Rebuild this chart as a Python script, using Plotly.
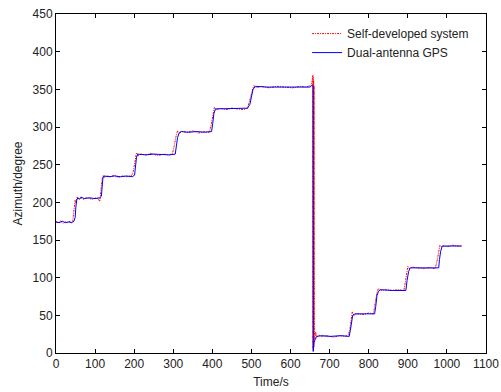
import plotly.graph_objects as go

# Self-developed system (red, dash-dot)
red_time = [0, 6, 12, 18, 24, 30, 36, 40,
            43, 45, 47, 49, 51, 54, 58,
            64, 70, 78, 86, 94, 102, 108, 112,
            114, 116, 118, 121, 124,
            130, 140, 150, 160, 170, 180, 190, 196,
            199, 201, 203, 206, 210,
            218, 230, 245, 260, 275, 290, 298,
            302, 305, 308, 311, 315,
            322, 335, 350, 365, 380, 392,
            396, 399, 402, 405, 410,
            420, 435, 450, 465, 480, 490,
            494, 498, 502, 506, 512,
            525, 545, 565, 585, 605, 625, 640, 650, 654, 656, 657,
            657.5, 658, 658.5, 659, 659.5, 660, 660.5, 661,
            662, 664, 667, 672, 680, 695, 710, 725, 740, 748,
            752, 755, 758, 762, 770,
            785, 800, 812,
            815, 818, 821, 825, 832,
            845, 860, 875, 890,
            894, 897, 900, 904, 912,
            925, 940, 955, 970,
            976, 979, 982, 985, 990,
            1000, 1015, 1030, 1038]
red_azimuth = [174, 173, 175, 172, 174, 173, 175, 173,
               176, 185, 196, 203, 199, 207, 205,
               206, 204, 206, 205, 204, 206, 205, 201,
               212, 222, 231, 236, 233,
               235, 234, 236, 233, 235, 234, 235, 237,
               245, 252, 260, 266, 262,
               264, 263, 265, 262, 264, 263, 265,
               274, 285, 290, 295, 292,
               294, 293, 295, 292, 294, 293,
               300, 310, 318, 326, 323,
               325, 323, 325, 324, 323, 325,
               332, 341, 349, 355, 352,
               354, 352, 354, 353, 352, 354, 353, 355, 358, 364, 369,
               5, 366, 3, 362, 8, 355, 10, 30,
               18, 28, 21, 24, 22, 23, 21, 23, 22, 24,
               32, 42, 55, 50, 52,
               51, 53, 52,
               62, 72, 80, 86, 83,
               84, 83, 84, 83,
               95, 105, 115, 112, 114,
               113, 112, 113, 112,
               125, 135, 143, 141, 142,
               141, 143, 142, 142]

# Dual-antenna GPS (blue, solid)
blue_time = [0, 8, 16, 24, 32, 40, 46, 49, 51, 53, 56, 60, 64, 72, 85, 100, 112,
             116, 118, 120, 123, 135, 150, 165, 180, 195,
             201, 203, 206, 210, 230, 250, 270, 290,
             305, 308, 311, 315, 320, 340, 360, 380,
             398, 401, 404, 408, 430, 460, 490,
             496, 500, 504, 510, 540, 580, 620, 650, 656, 657.5,
             658, 659, 660, 663, 667, 680, 700, 730, 750,
             753, 756, 759, 765, 790, 815,
             818, 821, 825, 830, 860, 895,
             898, 902, 906, 930, 960, 979,
             981, 984, 988, 1010, 1038]
blue_azimuth = [174, 173, 175, 173, 174, 173, 175, 180, 195, 203, 206, 204, 207, 205, 206, 205, 206,
                208, 220, 232, 235, 234, 235, 234, 235, 234,
                236, 248, 260, 264, 263, 264, 263, 263,
                264, 275, 286, 292, 294, 293, 294, 293,
                294, 305, 318, 324, 324, 324, 325,
                330, 340, 350, 354, 353, 353, 353, 353, 356, 354,
                2, 8, 14, 18, 22, 23, 22, 23, 22,
                30, 44, 50, 52, 52, 52,
                62, 76, 82, 84, 83, 83,
                96, 108, 113, 113, 113, 113,
                124, 135, 142, 142, 142]

x_ticks = list(range(0, 1101, 100))
y_ticks = list(range(0, 451, 50))

FONT = "Liberation Sans, Arial, sans-serif"

fig = go.Figure()
fig.add_trace(go.Scatter(x=red_time, y=red_azimuth, mode="lines",
                         name="Self-developed system",
                         line=dict(color="#ff0000", width=1, dash="2px,1px,1px,1px")))
fig.add_trace(go.Scatter(x=blue_time, y=blue_azimuth, mode="lines",
                         name="Dual-antenna GPS",
                         line=dict(color="#0000ff", width=1)))

axis_common = dict(showline=True, linecolor="black", linewidth=1, mirror="ticks",
                   ticks="inside", ticklen=4, tickcolor="black", showgrid=False,
                   zeroline=False, automargin=False,
                   tickfont=dict(family=FONT, size=12, color="#222"))

fig.update_xaxes(range=[0, 1100], tickvals=x_ticks,
                 title=dict(text="Time/s", font=dict(family=FONT, size=12, color="#222"), standoff=7),
                 **axis_common)
fig.update_yaxes(range=[0, 450], tickvals=y_ticks,
                 title=dict(text="Azimuth/degree", font=dict(family=FONT, size=12, color="#222"), standoff=7),
                 **axis_common)

fig.update_layout(
    width=501, height=392,
    margin=dict(l=56, r=15, t=14, b=39),
    paper_bgcolor="white", plot_bgcolor="white",
    showlegend=True,
    legend=dict(x=0.584, y=0.985, xanchor="left", yanchor="top",
                bgcolor="rgba(255,255,255,0)", borderwidth=0,
                font=dict(family=FONT, size=12, color="#222"),
                tracegroupgap=0, itemwidth=30),
)

# remove the page's default body margin so the figure sits at the window's corner
fig.write_html("out.html", config={"displayModeBar": False},
               post_script="document.body.style.margin='0';")
